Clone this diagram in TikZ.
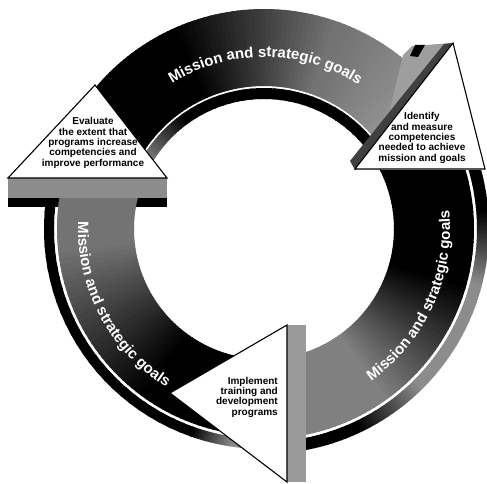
\documentclass[tikz,border=0pt]{standalone}
\usepackage{fontspec}
\setmainfont{Liberation Sans}
\usetikzlibrary{decorations.text}
\definecolor{capgray}{HTML}{8C8C8C}
\definecolor{endgray}{HTML}{9A9A9A}

% shaded piece of the ring: start angle, end angle, inner r, outer r, black% at start, black% at end
\newcommand{\bandarc}[6]{%
  \foreach \k in {0,...,29}{%
    \pgfmathsetmacro\aa{#1+(#2-#1)*\k/30}%
    \pgfmathsetmacro\ab{#1+(#2-#1)*(\k+1.3)/30}%
    \pgfmathsetmacro\pp{#5+(#6-#5)*\k/29}%
    \fill[black!\pp!white] (\aa:#3) arc[start angle=\aa,end angle=\ab,radius=#3]
      -- (\ab:#4) arc[start angle=\ab,end angle=\aa,radius=#4] -- cycle;
  }}
\newcommand{\ringfont}{\fontsize{15}{15}\selectfont\bfseries}

\tikzset{
  tribox/.style={draw=black,line width=1.1pt,fill=white,line join=miter},
  trilabel/.style={font=\fontsize{10}{10.3}\selectfont\bfseries,align=center,inner sep=0pt},
  ringtext/.style={decorate,decoration={text along path,text align=center,
    text color=white,text={|\ringfont|Mission and strategic goals}}}
}

\begin{document}
\begin{tikzpicture}[x=1pt,y=1pt]
  \useasboundingbox (0,0) rectangle (487,483);

  % top part of the ring
  \begin{scope}[shift={(264,254)}]
    \bandarc{152}{115}{143}{220}{100}{100}
    \bandarc{115}{70}{143}{220}{100}{55}
    \bandarc{70}{28}{143}{220}{55}{38}
    \bandarc{152}{125}{130}{141}{45}{100}
    \bandarc{125}{28}{130}{141}{100}{100}
  \end{scope}
  \fill[black!38] (403,428) -- (412,437) -- (452,440) -- (355,313) -- (377,319) -- cycle;
  \fill[black] (410,427) -- (415,438) -- (425,438) -- (418,426) -- cycle;
  \fill[black!75] (444,439) -- (453,440) -- (355,313) -- (350,322) -- cycle;

  % left part, cut flat under the arrow head
  \fill[black] (8,276) rectangle (167,285);
  \begin{scope}
    \clip (0,0) rectangle (487,285);
    \begin{scope}[shift={(264,254)}]
      \bandarc{160}{185}{130}{207}{55}{55}
      \bandarc{185}{235}{130}{207}{55}{100}
      \bandarc{235}{276}{130}{207}{100}{100}
      \bandarc{160}{250}{210}{220}{100}{100}
      \bandarc{250}{262}{210}{220}{100}{45}
      \bandarc{262}{276}{210}{220}{45}{45}
    \end{scope}
  \end{scope}
  \fill[capgray] (8,285) rectangle (167,305);

  % right part, cut flat at the bottom end
  \begin{scope}
    \clip (306,0) rectangle (487,313);
    \begin{scope}[shift={(264,254)}]
      \bandarc{35}{-15}{130}{210}{100}{100}
      \bandarc{-15}{-55}{130}{210}{100}{50}
      \bandarc{-55}{-100}{130}{210}{50}{50}
      \bandarc{35}{5}{213}{225}{100}{100}
      \bandarc{5}{-15}{213}{225}{100}{45}
      \bandarc{-15}{-45}{213}{225}{45}{45}
      \bandarc{-45}{-65}{213}{225}{45}{100}
      \bandarc{-65}{-100}{213}{225}{100}{100}
    \end{scope}
  \end{scope}
  \fill[endgray] (287,1) rectangle (306,158);

  % arrow heads
  \coordinate (evtop) at (95,398);
  \coordinate (evleft) at (8,305);
  \coordinate (evright) at (167,305);
  \coordinate (idtop) at (453,440);
  \coordinate (idleft) at (355,314);
  \coordinate (idright) at (485,314);
  \coordinate (imtip) at (170,90);
  \coordinate (imtop) at (287,158);
  \coordinate (imbot) at (287,1);
  \draw[tribox] (evtop) -- (evleft) -- (evright) -- cycle;
  \draw[tribox] (idtop) -- (idleft) -- (idright) -- cycle;
  \draw[tribox] (imtip) -- (imtop) -- (imbot) -- cycle;

  \node[trilabel] (evaltext) at (93,340) {Evaluate\\the extent that\\programs increase\\competencies and\\improve performance};
  \node[trilabel] (identtext) at (422,345) {Identify\\and measure\\competencies\\needed to achieve\\mission and goals};
  \node[trilabel,align=right,anchor=east] (impltext) at (278,86) {Implement\\training and\\development\\programs};

  % labels along the ring
  \begin{scope}[shift={(264,254)}]
    \path[ringtext] (125:172) arc[start angle=125,end angle=54,radius=172];
    \path[ringtext] (168:186) arc[start angle=168,end angle=248,radius=186];
    \path[ringtext] (-65:186) arc[start angle=-65,end angle=16,radius=186];
  \end{scope}
\end{tikzpicture}
\end{document}
